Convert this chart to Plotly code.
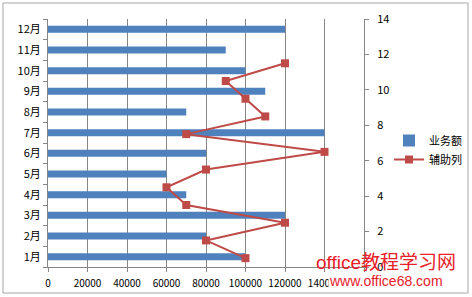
import plotly.graph_objects as go

months = ["1月", "2月", "3月", "4月", "5月", "6月", "7月", "8月", "9月", "10月", "11月", "12月"]
sales = [100000, 80000, 120000, 70000, 60000, 80000, 140000, 70000, 110000, 100000, 90000, 120000]
helper = [0.5, 1.5, 2.5, 3.5, 4.5, 5.5, 6.5, 7.5, 8.5, 9.5, 10.5, 11.5]
x_ticks = [0, 20000, 40000, 60000, 80000, 100000, 120000, 140000, 160000]
y2_ticks = [0, 2, 4, 6, 8, 10, 12, 14]

font = "Noto Sans CJK SC"
W, H = 472, 297
PL, PR, PT, PB = 48, 364, 19, 267  # plot area in pixels


def px(x):
    return x / W


def py(y):
    return 1 - y / H


fig = go.Figure()
fig.add_trace(go.Bar(
    y=months, x=sales, orientation="h", name="业务额",
    marker=dict(color="#4f81bd", line=dict(width=0)), width=0.34,
))
fig.add_trace(go.Scatter(
    x=sales, y=helper, yaxis="y2", name="辅助列", mode="lines+markers",
    line=dict(color="#be4b48", width=2),
    marker=dict(symbol="square", size=8, color="#be4b48"),
))

fig.update_layout(
    width=W, height=H,
    margin=dict(l=0, r=0, t=0, b=0),
    paper_bgcolor="white", plot_bgcolor="white",
    font=dict(family=font, size=10, color="#000000"),
    xaxis=dict(
        domain=[px(PL), px(PR)], automargin=False,
        range=[0, 160000], tickvals=x_ticks, ticktext=[str(v) for v in x_ticks],
        showgrid=True, gridcolor="#868686", gridwidth=1,
        zeroline=False, showline=True, linecolor="#868686", linewidth=1,
        ticks="outside", ticklen=4, tickcolor="#868686",
        tickfont=dict(size=10), ticklabelstandoff=3,
    ),
    yaxis=dict(
        domain=[py(PB), py(PT)], automargin=False,
        type="category", categoryorder="array", categoryarray=months,
        range=[-0.5, 11.5], showgrid=False, zeroline=False,
        showline=True, linecolor="#868686", linewidth=1,
        ticks="outside", tickson="boundaries", ticklen=4, tickcolor="#868686",
        tickfont=dict(size=11), ticklabelstandoff=4,
    ),
    yaxis2=dict(
        overlaying="y", side="right", range=[0, 14], tickvals=y2_ticks, automargin=False,
        showgrid=False, zeroline=False, showline=True, linecolor="#868686", linewidth=1,
        ticks="outside", ticklen=4, tickcolor="#868686",
        tickfont=dict(size=11), ticklabelstandoff=6,
    ),
    legend=dict(
        x=px(389), y=py(126), xanchor="left", yanchor="top",
        font=dict(size=11), bgcolor="rgba(0,0,0,0)", tracegroupgap=4,
        itemwidth=30,
    ),
    showlegend=True,
)

fig.add_shape(type="rect", xref="paper", yref="paper",
              x0=px(3), x1=px(468), y0=py(293), y1=py(3),
              line=dict(color="#a6a6a6", width=1), layer="below")

fig.add_annotation(text="office教程学习网", xref="paper", yref="paper",
                   x=px(386), y=py(262), xanchor="center", yanchor="middle", showarrow=False,
                   font=dict(family="Liberation Sans, Noto Sans CJK SC", size=19, color="#e8202a"))
fig.add_annotation(text="www.office68.com", xref="paper", yref="paper",
                   x=px(386), y=py(281), xanchor="center", yanchor="middle", showarrow=False,
                   bgcolor="white", borderpad=0,
                   font=dict(family="Liberation Sans", size=14, color="#e8202a"))

fig.write_html("out.html")
